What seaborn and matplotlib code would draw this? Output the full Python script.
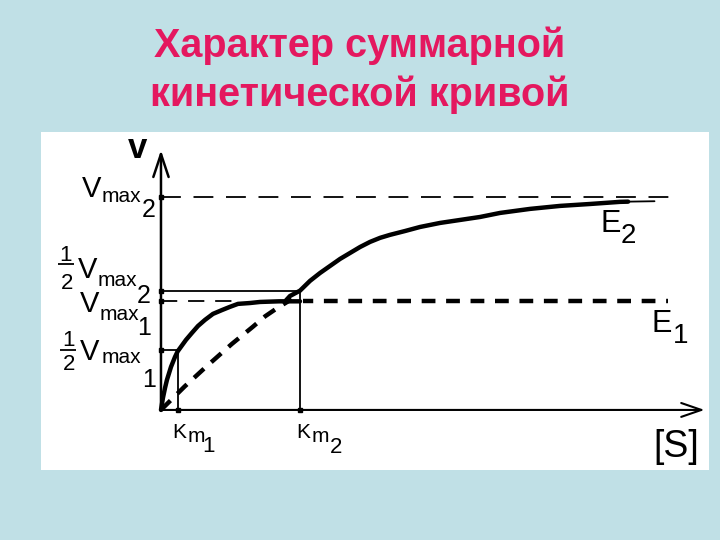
import matplotlib
matplotlib.use('Agg')
import matplotlib.pyplot as plt
from matplotlib.transforms import Affine2D
import seaborn as sns

# Values: [S] in units of Km2, v in units of Vmax2
Km1, Km2 = 0.12, 1.0
Vmax1, Vmax2 = 0.51, 1.0
half_Vmax1, half_Vmax2 = 0.28, 0.56

# E1 (solid, saturates early)
e1_s = [0, 0.014, 0.029, 0.043, 0.072, 0.101, 0.12, 0.18, 0.223, 0.266,
        0.317, 0.374, 0.439, 0.496, 0.554, 0.64, 0.712, 0.85, 1.0]
e1_v = [0, 0.056, 0.103, 0.141, 0.202, 0.249, 0.275, 0.329, 0.362, 0.394,
        0.423, 0.451, 0.469, 0.484, 0.498, 0.502, 0.507, 0.51, 0.51]

# E2 low-substrate part (dashed)
e2_low_s = [0, 0.17, 0.32, 0.51, 0.66, 0.75, 0.84, 0.94]
e2_low_v = [0, 0.11, 0.20, 0.31, 0.39, 0.44, 0.48, 0.52]

# E2 high-substrate part (solid)
e2_s = [0.90, 0.928, 1.0, 1.072, 1.144, 1.216, 1.288, 1.36, 1.432, 1.504,
        1.576, 1.647, 1.755, 1.863, 2.007, 2.151, 2.295, 2.439, 2.655,
        2.871, 3.086, 3.302, 3.36]
e2_v = [0.515, 0.535, 0.56, 0.606, 0.643, 0.676, 0.709, 0.737, 0.765, 0.789,
        0.808, 0.822, 0.84, 0.859, 0.878, 0.892, 0.906, 0.925, 0.944,
        0.958, 0.967, 0.977, 0.978]
e2_tail_s = [3.36, 3.55]
e2_tail_v = [0.978, 0.98]

s_axis_end, v_axis_end = 3.91, 1.22
vmax2_line_end, vmax1_line_end = 3.71, 3.65
vmax1_thin_end, vmax1_thick_start = 0.55, 1.02

title_lines = ['Характер суммарной', 'кинетической кривой']

sns.set_theme(style='white')
plt.rcParams['font.family'] = ['Liberation Sans', 'DejaVu Sans']
plt.rcParams['text.color'] = 'black'

fig = plt.figure(figsize=(7.2, 5.4), dpi=100, facecolor='#c0e0e6')
ax = fig.add_axes([41 / 720, 70 / 540, 668 / 720, 338 / 540])
ax.set_facecolor('white')
ax.set_xlim(-0.863, 3.942)
ax.set_ylim(-0.282, 1.305)
ax.set_xticks([])
ax.set_yticks([])
sns.despine(ax=ax, left=True, bottom=True)

thick = 3.2
thin = 1.3

# axes with open arrowheads
ax.annotate('', xy=(s_axis_end, 0), xytext=(0, 0),
            arrowprops=dict(arrowstyle='->,head_length=1.45,head_width=0.5',
                            mutation_scale=10, lw=1.5, color='black',
                            shrinkA=0, shrinkB=0))
ax.annotate('', xy=(0, v_axis_end), xytext=(0, 0),
            arrowprops=dict(arrowstyle='->,head_length=1.65,head_width=0.55',
                            mutation_scale=10, lw=1.8, color='black',
                            shrinkA=0, shrinkB=0))

# guide lines
ax.plot([0, vmax2_line_end], [Vmax2, Vmax2], color='black', lw=thin,
        linestyle=(0, (11, 7)))
ax.plot([0, vmax1_thin_end], [Vmax1, Vmax1], color='black', lw=thin,
        linestyle=(0, (9, 6)))
ax.plot([vmax1_thick_start, vmax1_line_end], [Vmax1, Vmax1], color='black',
        lw=thick, linestyle=(0.8, (3.1, 2.4)))
ax.plot([0, Km2, Km2], [half_Vmax2, half_Vmax2, 0], color='black', lw=thin)
ax.plot([0, Km1, Km1], [half_Vmax1, half_Vmax1, 0], color='black', lw=thin)

# kinetic curves
sns.lineplot(x=e2_low_s, y=e2_low_v, ax=ax, color='black', lw=thick,
             sort=False, estimator=None, linestyle=(0, (3.0, 2.2)))
sns.lineplot(x=e1_s, y=e1_v, ax=ax, color='black', lw=thick,
             sort=False, estimator=None)
sns.lineplot(x=e2_s, y=e2_v, ax=ax, color='black', lw=thick,
             sort=False, estimator=None)
sns.lineplot(x=e2_tail_s, y=e2_tail_v, ax=ax, color='black', lw=thin,
             sort=False, estimator=None)

# tick dots
ax.plot([0, 0, 0, 0], [Vmax2, half_Vmax2, Vmax1, half_Vmax1], 's',
        color='black', ms=3.5)
ax.plot([Km1, Km2], [0, 0], 's', color='black', ms=3.5)


def piece(x, y, s, dx, dy, size, ha='left', **kw):
    ax.annotate(s, xy=(x, y), xytext=(dx, dy), textcoords='offset pixels',
                fontsize=size, ha=ha, va='baseline', color='black', **kw)


def half_bar(y, dx, dy):
    ax.plot([0], [y], marker='_', ms=12, mew=1.3, color='black',
            transform=ax.transData + Affine2D().translate(dx, dy))


# v-axis labels
piece(0, Vmax2, 'V', -79, 0, 21)
piece(0, Vmax2, 'max', -59, -5, 15)
piece(0, Vmax2, '2', -19, -20, 18)

piece(0, half_Vmax2, '1', -95, 30, 16, ha='center')
half_bar(half_Vmax2, -95, 27)
piece(0, half_Vmax2, '2', -94, 2, 16, ha='center')
piece(0, half_Vmax2, 'V', -83, 13, 21)
piece(0, half_Vmax2, 'max', -63, 5, 15)
piece(0, half_Vmax2, '2', -24, -12, 18)

piece(0, Vmax1, 'V', -81, -11, 21)
piece(0, Vmax1, 'max', -61, -19, 15)
piece(0, Vmax1, '1', -24, -34, 18)

piece(0, half_Vmax1, '1', -92, 4, 16, ha='center')
half_bar(half_Vmax1, -93, 0)
piece(0, half_Vmax1, '2', -92, -20, 16, ha='center')
piece(0, half_Vmax1, 'V', -81, -10, 21)
piece(0, half_Vmax1, 'max', -59, -13, 15)
piece(0, half_Vmax1, '1', -19, -37, 18)

# [S]-axis labels
piece(Km1, 0, 'K', -5, -28, 15)
piece(Km1, 0, 'm', 10, -32, 15)
piece(Km1, 0, '1', 25, -42, 16)
piece(Km2, 0, 'K', -4, -28, 15)
piece(Km2, 0, 'm', 12, -32, 15)
piece(Km2, 0, '2', 30, -43, 16)

ax.text(-0.235, 1.183, 'v', fontsize=25, fontweight='bold', va='baseline')
ax.text(3.54, -0.221, '[S]', fontsize=27, va='baseline')
ax.text(3.16, 0.836, 'E', fontsize=22, va='baseline')
ax.text(3.305, 0.784, '2', fontsize=20, va='baseline')
ax.text(3.53, 0.366, 'E', fontsize=22, va='baseline')
ax.text(3.68, 0.315, '1', fontsize=20, va='baseline')

# title
fig.text(0.5, 1 - 57 / 540, title_lines[0], ha='center', va='baseline',
         fontsize=28.5, fontweight='bold', color='#e4185f')
fig.text(0.5, 1 - 106 / 540, title_lines[1], ha='center', va='baseline',
         fontsize=28.5, fontweight='bold', color='#e4185f')

fig.savefig('out.png', dpi=100, facecolor=fig.get_facecolor())
